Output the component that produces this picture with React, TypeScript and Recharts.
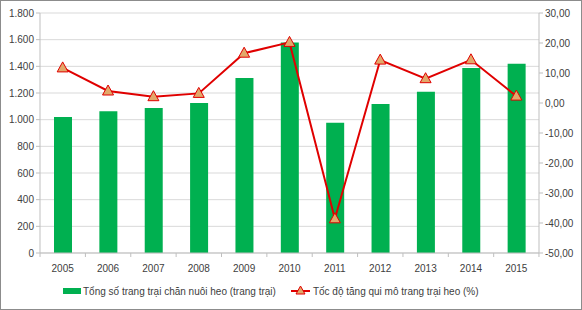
import { ComposedChart, Bar, Line, XAxis, YAxis, CartesianGrid, Legend } from 'recharts';

const years = ['2005', '2006', '2007', '2008', '2009', '2010', '2011', '2012', '2013', '2014', '2015'];
// Tổng số trang trại chăn nuôi heo (trang trại)
const farms = [1020, 1063, 1088, 1125, 1313, 1578, 977, 1118, 1210, 1388, 1420];
// Tốc độ tăng qui mô trang trại heo (%)
const growth = [11.7, 4.0, 2.1, 3.2, 16.6, 20.2, -38.6, 14.3, 8.1, 14.4, 2.3];

const leftTicks = [0, 200, 400, 600, 800, 1000, 1200, 1400, 1600, 1800];
const rightTicks = [-50, -40, -30, -20, -10, 0, 10, 20, 30];

const FONT = '"Liberation Sans", Arial, sans-serif';
const TXT = '#404040';
const BAND = 498 / 11;

const chartData = years.map((y, i) => ({ year: y, farms: farms[i], growth: growth[i] }));

const fmtLeft = (v: number) => v.toLocaleString('de-DE');
const fmtRight = (v: number) => v.toFixed(2).replace('.', ',');

const Triangle = (props: any) => {
    const { cx, cy } = props;
    if (cx == null || cy == null) return null;
    return (
        <path
            d={`M${cx},${cy - 6} L${cx + 5.5},${cy + 4} L${cx - 5.5},${cy + 4} Z`}
            fill="#E2A86A"
            stroke="#E00000"
            strokeWidth={1}
        />
    );
};

const YearTick = (props: any) => {
    const { x, y, payload, index } = props;
    return (
        <g>
            <line x1={x - BAND / 2} y1={y - 8} x2={x - BAND / 2} y2={y - 4} stroke="#BFBFBF" />
            {index === years.length - 1 && (
                <line x1={x + BAND / 2} y1={y - 8} x2={x + BAND / 2} y2={y - 4} stroke="#BFBFBF" />
            )}
            <text x={x} y={y + 11} textAnchor="middle" fill={TXT} fontSize={10} fontFamily={FONT}>
                {payload.value}
            </text>
        </g>
    );
};

const LegendBox = () => (
    <div
        style={{
            display: 'flex',
            alignItems: 'center',
            fontFamily: FONT,
            fontSize: 10,
            color: TXT,
            paddingLeft: 62,
            marginTop: 6,
        }}
    >
        <svg width={20} height={10}>
            <rect x={0} y={2} width={18} height={6} fill="#00B050" />
        </svg>
        <span>Tổng số trang trại chăn nuôi heo (trang trại)</span>
        <svg width={22} height={12} style={{ marginLeft: 15 }}>
            <line x1={0} y1={6} x2={19} y2={6} stroke="#E00000" strokeWidth={2} />
            <path d="M9.5,1 L14,9 L5,9 Z" fill="#E2A86A" stroke="#E00000" strokeWidth={1} />
        </svg>
        <span>Tốc độ tăng qui mô trang trại heo (%)</span>
    </div>
);

export default function App() {
    return (
        <div
            style={{
                position: 'fixed',
                left: 0,
                top: 0,
                width: 582,
                height: 310,
                boxSizing: 'border-box',
                border: '1px solid #8C8C8C',
                background: '#fff',
            }}
        >
            <ComposedChart
                width={580}
                height={308}
                data={chartData}
                margin={{ top: 12, right: 0, bottom: 0, left: 0 }}
            >
                <CartesianGrid yAxisId="left" vertical={false} stroke="#D9D9D9" />
                <XAxis
                    dataKey="year"
                    tick={<YearTick />}
                    tickLine={false}
                    axisLine={{ stroke: '#BFBFBF' }}
                    interval={0}
                    height={26}
                />
                <YAxis
                    yAxisId="left"
                    domain={[0, 1800]}
                    ticks={leftTicks}
                    tickFormatter={fmtLeft}
                    width={39}
                    tick={{ fill: TXT, fontSize: 10, fontFamily: FONT }}
                    tickLine={{ stroke: '#BFBFBF' }}
                    tickSize={4}
                    axisLine={{ stroke: '#BFBFBF' }}
                    interval={0}
                />
                <YAxis
                    yAxisId="right"
                    orientation="right"
                    domain={[-50, 30]}
                    ticks={rightTicks}
                    tickFormatter={fmtRight}
                    width={42}
                    tick={{ fill: TXT, fontSize: 10, fontFamily: FONT }}
                    tickLine={{ stroke: '#BFBFBF' }}
                    tickSize={4}
                    axisLine={{ stroke: '#BFBFBF' }}
                    interval={0}
                />
                <Legend verticalAlign="bottom" height={30} content={<LegendBox />} />
                <Bar yAxisId="left" dataKey="farms" fill="#00B050" barSize={18} isAnimationActive={false} />
                <Line
                    yAxisId="right"
                    type="linear"
                    dataKey="growth"
                    stroke="#E00000"
                    strokeWidth={2}
                    dot={<Triangle />}
                    activeDot={false}
                    isAnimationActive={false}
                />
            </ComposedChart>
        </div>
    );
}
